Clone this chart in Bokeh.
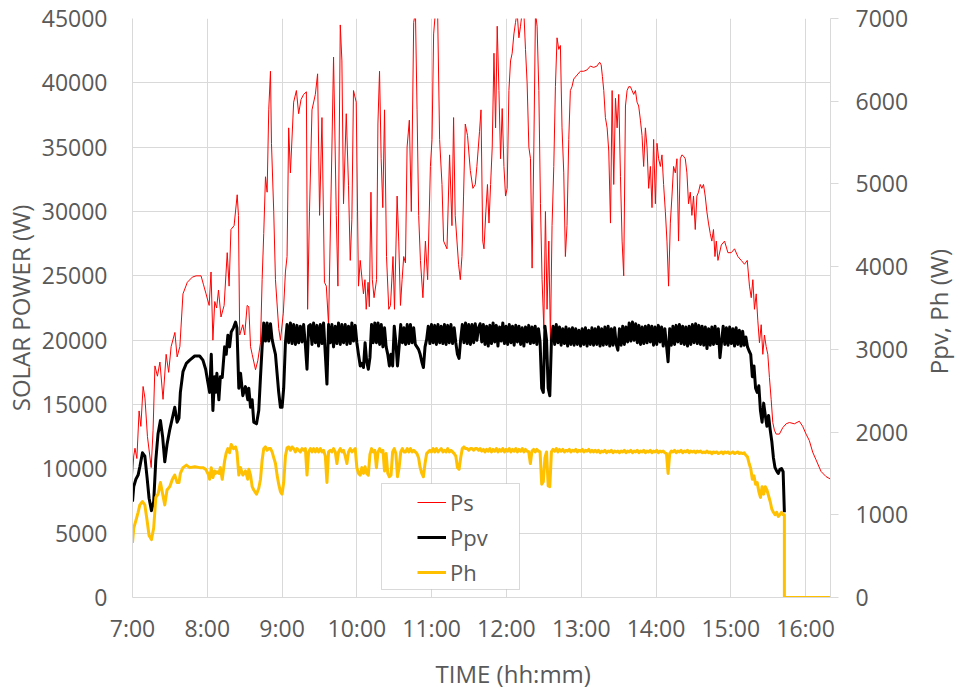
from bokeh.plotting import figure
from bokeh.models import (Range1d, LinearAxis, FixedTicker, Legend, LegendItem,
                          BoxAnnotation, Title, NumeralTickFormatter, Div)
from bokeh.layouts import row
from bokeh.embed import file_html
from bokeh.resources import INLINE

# ---------------- data (minutes after 7:00) ----------------
hour_ticks = [0, 60, 120, 180, 240, 300, 360, 420, 480, 540]
hour_labels = ["7:00", "8:00", "9:00", "10:00", "11:00", "12:00", "13:00", "14:00", "15:00", "16:00"]
left_ticks = [0, 5000, 10000, 15000, 20000, 25000, 30000, 35000, 40000, 45000]
right_ticks = [0, 1000, 2000, 3000, 4000, 5000, 6000, 7000]

# Ps (left axis, W)
ps_min = [
    0, 1, 2, 3.5, 5.3, 6.7, 8.5, 10, 12, 15,
    16.5, 18, 20, 22, 24.5, 27, 29, 31, 34, 35.8,
    38, 40.5, 44, 48, 51, 55, 57, 59, 61.5, 63,
    64.5, 66, 67.5, 69, 71, 73.5, 76, 77.5, 79, 81.5,
    84, 85, 86, 88.5, 90, 92, 93.3, 94.7, 96, 98.7,
    100.5, 102.7, 104, 105.3, 106.7, 108, 109.3, 110.7, 111.5, 113.3,
    114.7, 117.3, 118.7, 121, 122.7, 124, 125.3, 126.7, 129.3, 131.5,
    133.3, 135.2, 137.3, 139.5, 140.5, 142, 144, 146.7, 148.5, 150.1,
    152, 154, 155.5, 157.3, 160, 161.3, 163.5, 164.8, 166.7, 168,
    169.3, 171.5, 173.3, 174.7, 176, 177.3, 179.5, 181.3, 182.7, 185.3,
    186.5, 187.5, 189, 190, 191.3, 192.4, 193.8, 195.8, 196.9, 198.2,
    199.5, 200.8, 202.2, 203.8, 205.6, 207, 209, 210.2, 212.3, 213.6,
    215, 216.3, 217.6, 219, 220.3, 222.1, 223.7, 225.6, 227, 228.3,
    229.6, 231, 233, 235, 236.8, 239, 240.3, 241.6, 243, 244.8,
    246.4, 248.3, 249.6, 252.3, 254.4, 256.3, 257.6, 258.9, 261.6, 263,
    264.3, 265.6, 267, 268.8, 271, 273.1, 275, 276.3, 278.4, 279.6,
    281, 282, 283.5, 284.8, 286, 287.3, 288.6, 290, 291.3, 292.6,
    294, 295.3, 296.6, 298, 299.3, 300.6, 302, 303.3, 304.6, 306,
    307.3, 308.6, 310, 311.3, 312.6, 314, 315.3, 316.6, 318, 319.3,
    320.6, 322, 323.3, 324.6, 326, 327.3, 328.6, 330, 331.3, 332.6,
    334, 335.3, 336.6, 338, 339.3, 340.6, 342, 343.3, 344.6, 346,
    347.3, 348.6, 350, 351.3, 352.6, 354, 356.6, 359.3, 362, 364.6,
    367.3, 370, 372.6, 374.8, 376, 377, 378.1, 379.4, 380.8, 382.1,
    383.5, 384.8, 386.1, 387.5, 388.8, 390.1, 391.5, 392.8, 394.1, 395.5,
    396.8, 398.1, 399.5, 400.8, 402.1, 403.5, 404.8, 406.1, 407.5, 408.8,
    410.1, 411.5, 412.8, 414.1, 415.5, 416.8, 418.1, 419.5, 420.8, 422.1,
    423.5, 424.8, 426.1, 427.5, 428.8, 430.1, 431.5, 432.8, 434.1, 435.5,
    436.8, 438.1, 439.5, 440.8, 442.1, 443.5, 444.8, 446.1, 447.5, 448.8,
    450.1, 451.5, 452.8, 454.1, 455.5, 456.8, 458.1, 459.5, 460.8, 462.1,
    463.5, 464.8, 466.1, 467.3, 468.4, 469.7, 472.4, 475, 477.7, 480.4,
    483, 485.7, 488.4, 491, 493.2, 495, 496.4, 497.7, 499, 500.4,
    501.7, 503, 504.4, 505.7, 507, 508.4, 509.7, 511, 512.4, 513.7,
    515, 516.4, 519, 521.7, 524.4, 527, 531, 535, 537.7, 540.4,
    543, 545.7, 548.4, 552.4, 556.4, 560,
]
ps_w = [
    9500, 11000, 11600, 10800, 14500, 13300, 16400, 15500, 12500, 10100,
    13000, 18000, 17200, 18300, 15400, 18900, 17500, 19500, 20600, 18700,
    19500, 23600, 24500, 24900, 25000, 25000, 24300, 23600, 22700, 25300,
    20000, 23000, 22500, 23900, 21800, 22700, 26800, 24200, 28600, 28900,
    31300, 29700, 20400, 21200, 20400, 22700, 22600, 19500, 18900, 17700,
    18400, 19800, 24700, 28300, 32700, 31500, 37900, 40900, 35300, 30000,
    24700, 20900, 20000, 22100, 25300, 26500, 36500, 33000, 38500, 39400,
    37600, 38700, 39100, 39300, 22400, 30000, 37900, 39100, 40700, 29700,
    37300, 24500, 24200, 21200, 35000, 42000, 29700, 24200, 44500, 41700,
    30600, 37600, 32000, 26200, 29400, 39400, 38500, 24200, 26200, 23600,
    24700, 22400, 24500, 22600, 31500, 24700, 23300, 24700, 36800, 40900,
    34100, 30300, 37900, 26500, 22400, 22700, 26500, 22400, 31200, 27700,
    22700, 24700, 26500, 26000, 35000, 37100, 30000, 44700, 45500, 37900,
    29700, 26200, 23300, 27700, 24700, 33500, 35600, 43800, 45500, 45500,
    35600, 32100, 27700, 27100, 34400, 28900, 37300, 29700, 25900, 24700,
    26500, 31200, 36800, 35900, 33200, 31800, 32100, 33500, 36200, 37900,
    27700, 27100, 30000, 32100, 29100, 32100, 35000, 42300, 36500, 44400,
    39400, 34100, 38000, 33500, 31200, 31800, 39400, 41700, 42300, 43800,
    44700, 45500, 43500, 44400, 45500, 45500, 42600, 40000, 35000, 34100,
    25600, 35000, 45500, 44400, 39400, 30600, 24700, 20900, 30000, 22400,
    27700, 20000, 28900, 33500, 39700, 43500, 42600, 42900, 36500, 33000,
    26500, 28900, 35600, 39400, 39700, 40300, 40600, 40900, 40900, 41000,
    41300, 41200, 41300, 41600, 41400, 40500, 39400, 37300, 36500, 34700,
    29100, 39400, 32100, 38800, 36500, 39100, 32700, 27700, 25000, 38200,
    39400, 39700, 39700, 39400, 39100, 39400, 38500, 38200, 37100, 35900,
    33500, 36500, 35000, 31800, 33500, 30300, 35600, 30600, 35300, 34100,
    33500, 34400, 32100, 30000, 27700, 24200, 29100, 31200, 33500, 33000,
    34100, 27700, 34100, 34400, 34300, 34100, 33000, 30600, 31500, 29700,
    31200, 28600, 31200, 31500, 32100, 31800, 32100, 31200, 30000, 29100,
    28300, 27700, 28600, 26500, 27700, 26200, 27400, 27700, 26800, 26800,
    27100, 26500, 26200, 25900, 26200, 24200, 23300, 24700, 22400, 23600,
    21500, 19800, 21200, 18900, 20400, 19500, 18900, 17100, 15400, 13600,
    13000, 12700, 12700, 13200, 13500, 13600, 13500, 13700, 13300, 12700,
    12200, 11300, 10700, 9800, 9400, 9200,
]

# Ppv and Ph (right axis, W) share sample times
pv_min = [
    0, 1, 2.7, 4.5, 5.9, 8, 9.9, 11.7, 13.3, 15.2,
    17, 18.7, 20.5, 22.4, 24.2, 25.9, 27.7, 29.9, 32, 33.9,
    35.8, 37.3, 38.4, 40.5, 43.2, 45.9, 49.9, 53.9, 56.5, 58.7,
    60.5, 61.9, 63.2, 64.5, 65.9, 66.7, 67.7, 69.3, 70.5, 72,
    73.9, 75.2, 76.5, 77.9, 79.2, 81, 82.7, 83.8, 85.3, 86.7,
    88.5, 90.6, 92.5, 93.3, 94.7, 96, 97.3, 99.5, 101.3, 102.7,
    104, 105.3, 106.7, 108, 109.3, 110.7, 112, 113.3, 114.7, 116,
    117.3, 118.7, 120, 121.3, 122.7, 124, 125.3, 126.7, 128, 129.3,
    130.7, 132, 133.3, 134.7, 136, 137.3, 138.7, 140, 141.3, 142.7,
    144, 145.3, 146.7, 148, 149.3, 150.7, 152, 153.3, 154.7, 156,
    157.3, 158.7, 160, 161.3, 162.7, 164, 165.3, 166.7, 168, 169.3,
    170.7, 172, 173.3, 174.7, 176, 177.3, 178.7, 180, 181.3, 182.7,
    184, 185.3, 186.6, 187.9, 189.2, 190.5, 191.8, 193.1, 194.4, 195.7,
    197, 198.3, 199.6, 200.9, 202.2, 203.5, 204.8, 206.1, 207.4, 208.7,
    210, 211.3, 212.6, 213.9, 215.2, 216.5, 217.8, 219.1, 220.4, 221.7,
    223, 224.3, 225.6, 226.9, 228.2, 229.5, 230.8, 232.1, 233.4, 234.7,
    236, 237.3, 238.6, 239.9, 241.2, 242.5, 243.8, 245.1, 246.4, 247.7,
    249, 250.3, 251.6, 252.9, 254.2, 255.5, 256.8, 258.1, 259.4, 260.7,
    262, 263.3, 264.6, 265.9, 267.2, 268.5, 269.8, 271.1, 272.4, 273.7,
    275, 276.3, 277.6, 278.9, 280.2, 281.5, 282.8, 284.1, 285.4, 286.7,
    288, 289.3, 290.6, 291.9, 293.2, 294.5, 295.8, 297.1, 298.4, 299.7,
    301, 302.3, 303.6, 304.9, 306.2, 307.5, 308.8, 310.1, 311.4, 312.7,
    314, 315.3, 316.6, 317.9, 319.2, 320.5, 321.8, 323.1, 324.4, 325.7,
    327, 328.3, 329.6, 330.9, 332.2, 333.5, 334.8, 336.1, 337.4, 338.7,
    340, 341.3, 342.6, 343.9, 345.2, 346.5, 347.8, 349.1, 350.4, 351.7,
    353, 354.3, 355.6, 356.9, 358.2, 359.5, 360.8, 362.1, 363.4, 364.7,
    366, 367.3, 368.6, 369.9, 371.2, 372.5, 373.8, 375.1, 376.4, 377.7,
    379, 380.3, 381.6, 382.9, 384.2, 385.5, 386.8, 388.1, 389.4, 390.7,
    392, 393.3, 394.6, 395.9, 397.2, 398.5, 399.8, 401.1, 402.4, 403.7,
    405, 406.3, 407.6, 408.9, 410.2, 411.5, 412.8, 414.1, 415.4, 416.7,
    418, 419.3, 420.6, 421.9, 423.2, 424.5, 425.8, 427.1, 428.4, 429.7,
    431, 432.3, 433.6, 434.9, 436.2, 437.5, 438.8, 440.1, 441.4, 442.7,
    444, 445.3, 446.6, 447.9, 449.2, 450.5, 451.8, 453.1, 454.4, 455.7,
    457, 458.3, 459.6, 460.9, 462.2, 463.5, 464.8, 466.1, 467.4, 468.7,
    470, 471.3, 472.6, 473.9, 475.2, 476.5, 477.8, 479.1, 480.4, 481.7,
    483, 484.3, 485.6, 486.9, 488.2, 489.5, 490.8, 492.1, 493.4, 494.7,
    496, 497.3, 498.6, 499.9, 501.2, 502.5, 503.8, 505.1, 506.4, 507.7,
    509, 510.3, 511.6, 512.9, 514.2, 515.5, 516.8, 518.1, 519.4, 520.7,
    522, 523,
]
ppv_w = [
    1160, 1340, 1430, 1480, 1580, 1750, 1710, 1450, 1200, 1050,
    1160, 1660, 1980, 2140, 1940, 1640, 1850, 2030, 2170, 2300,
    2120, 2170, 2480, 2730, 2830, 2870, 2920, 2920, 2870, 2760,
    2600, 2480, 2940, 2260, 2670, 2480, 2710, 2390, 2670, 2660,
    3030, 2940, 3170, 3030, 3210, 3260, 3330, 3260, 2530, 2710,
    2440, 2550, 2390, 2530, 2300, 2390, 2120, 2100, 2260, 2670,
    3030, 3320, 3100, 3320, 3100, 3310, 3120, 3030, 2940, 2710,
    2480, 2300, 2300, 2530, 3080, 3300, 3080, 3320, 3070, 3300,
    3060, 3290, 3080, 3280, 3090, 3300, 3050, 2760, 3280, 3300,
    3060, 3320, 3080, 3290, 3040, 3300, 3070, 3320, 2940, 2580,
    3300, 3080, 3300, 3030, 3280, 3070, 3320, 3060, 3300, 3080,
    3300, 3060, 3280, 3070, 3320, 3100, 3290, 3080, 2940, 2800,
    2830, 2780, 3080, 2850, 2760, 2900, 3300, 3080, 3320, 3080,
    3320, 3060, 3300, 3030, 3260, 3030, 2940, 2800, 2940, 2800,
    3280, 3080, 2800, 3030, 3300, 3080, 3260, 3060, 3300, 3070,
    3300, 3080, 3260, 3060, 3030, 3000, 2940, 2850, 2780, 3030,
    3120, 3280, 3070, 3300, 3080, 3290, 3060, 3300, 3080, 3280,
    3070, 3300, 3060, 3290, 3080, 3300, 3070, 3260, 3080, 2940,
    2890, 3120, 3300, 3080, 3320, 3070, 3300, 3060, 3300, 3080,
    3310, 3110, 3260, 3310, 3090, 3300, 3060, 3280, 3040, 3290,
    3070, 3320, 3090, 3290, 3040, 3270, 3100, 3320, 3070, 3280,
    3060, 3300, 3080, 3280, 3050, 3290, 3090, 3280, 3060, 3260,
    3040, 3270, 3090, 3290, 3070, 3270, 3080, 3280, 3060, 3250,
    3090, 2530, 2480, 3280, 3110, 2530, 2440, 3100, 3280, 3060,
    3300, 3080, 3270, 3050, 3250, 3070, 3270, 3040, 3250, 3060,
    3260, 3050, 3250, 3060, 3230, 3040, 3250, 3060, 3260, 3040,
    3230, 3060, 3260, 3050, 3250, 3060, 3270, 3040, 3250, 3050,
    3270, 3060, 3280, 3040, 3250, 3050, 3260, 3060, 2990, 3250,
    3050, 3280, 3060, 3270, 3090, 3320, 3100, 3330, 3110, 3310,
    3080, 3290, 3060, 3270, 3070, 3280, 3080, 3290, 3090, 3280,
    3050, 3270, 3060, 3290, 3090, 3270, 3040, 3250, 3050, 2850,
    3250, 3050, 3280, 3060, 3290, 3090, 3300, 3070, 3280, 3060,
    3270, 3040, 3280, 3060, 3300, 3080, 3310, 3070, 3290, 3060,
    3280, 3050, 3270, 3010, 3250, 3050, 3270, 3060, 3280, 3070,
    3250, 2900, 3090, 3280, 3060, 3260, 3050, 3270, 3070, 3250,
    3040, 3260, 3060, 3230, 3040, 3220, 3050, 3150, 3030, 2980,
    2940, 2670, 2800, 2530, 2480, 2560, 2260, 2120, 2350, 2200,
    2070, 2200, 2030, 1890, 1690, 1570, 1530, 1500, 1550, 1560,
    1520, 1030,
]
ph_w = [
    660, 840, 930, 1030, 1120, 1160, 1120, 930, 750, 700,
    840, 1210, 1250, 1390, 1250, 1120, 1300, 1340, 1430, 1480,
    1390, 1390, 1500, 1570, 1600, 1570, 1580, 1570, 1570, 1550,
    1500, 1430, 1570, 1450, 1530, 1500, 1520, 1500, 1570, 1430,
    1650, 1750, 1800, 1750, 1850, 1800, 1820, 1760, 1480, 1570,
    1480, 1530, 1430, 1550, 1480, 1340, 1300, 1250, 1320, 1430,
    1660, 1800, 1820, 1780, 1800, 1800, 1760, 1690, 1620, 1480,
    1370, 1280, 1250, 1390, 1710, 1810, 1820, 1780, 1820, 1800,
    1760, 1800, 1780, 1760, 1800, 1780, 1800, 1480, 1760, 1800,
    1760, 1800, 1760, 1800, 1760, 1800, 1760, 1780, 1710, 1390,
    1760, 1780, 1760, 1800, 1760, 1620, 1760, 1800, 1760, 1780,
    1710, 1620, 1760, 1800, 1760, 1780, 1800, 1570, 1500, 1480,
    1570, 1500, 1580, 1500, 1480, 1730, 1800, 1760, 1780, 1570,
    1760, 1800, 1760, 1780, 1530, 1740, 1500, 1460, 1480, 1760,
    1800, 1740, 1460, 1570, 1760, 1800, 1760, 1760, 1800, 1760,
    1800, 1760, 1780, 1760, 1740, 1690, 1570, 1500, 1460, 1620,
    1740, 1760, 1780, 1760, 1800, 1760, 1800, 1760, 1780, 1800,
    1760, 1780, 1760, 1800, 1760, 1780, 1760, 1740, 1710, 1570,
    1550, 1690, 1800, 1820, 1800, 1800, 1780, 1800, 1800, 1780,
    1800, 1800, 1780, 1800, 1770, 1790, 1760, 1790, 1770, 1800,
    1760, 1790, 1770, 1800, 1760, 1790, 1770, 1800, 1760, 1790,
    1770, 1800, 1760, 1790, 1770, 1800, 1760, 1790, 1770, 1800,
    1760, 1790, 1770, 1760, 1620, 1770, 1790, 1760, 1790, 1770,
    1760, 1370, 1400, 1690, 1760, 1350, 1340, 1760, 1790, 1770,
    1800, 1760, 1790, 1770, 1790, 1760, 1780, 1770, 1790, 1760,
    1780, 1770, 1790, 1760, 1780, 1770, 1790, 1760, 1780, 1770,
    1790, 1760, 1780, 1760, 1780, 1760, 1780, 1750, 1770, 1760,
    1780, 1750, 1770, 1760, 1780, 1750, 1770, 1760, 1770, 1750,
    1770, 1760, 1780, 1750, 1770, 1760, 1780, 1750, 1770, 1760,
    1780, 1750, 1770, 1760, 1780, 1750, 1770, 1760, 1780, 1750,
    1770, 1760, 1780, 1750, 1770, 1760, 1770, 1750, 1740, 1500,
    1740, 1770, 1760, 1780, 1750, 1770, 1760, 1780, 1750, 1770,
    1760, 1780, 1750, 1770, 1760, 1770, 1750, 1770, 1760, 1770,
    1750, 1760, 1750, 1770, 1750, 1760, 1740, 1760, 1750, 1760,
    1740, 1750, 1760, 1740, 1760, 1750, 1760, 1740, 1750, 1760,
    1740, 1750, 1760, 1740, 1750, 1740, 1750, 1720, 1700, 1620,
    1560, 1430, 1470, 1370, 1390, 1280, 1210, 1340, 1250, 1340,
    1300, 1230, 1160, 1070, 1030, 1000, 1030, 980, 1000, 1030,
    1000, 1000,
]
ph_tail_min = [523, 560]
ph_tail_w = [0, 0]

# ---------------- styling ----------------
FONT = "Open Sans"
TXT = "#595959"
GRID = "#d9d9d9"
FS_TICK = "23px"
FS_TITLE = "24px"

p = figure(width=926, height=697, output_backend="svg", toolbar_location=None,
           x_range=Range1d(0, 560), y_range=Range1d(0, 45000),
           min_border_left=130, min_border_right=96, min_border_top=18,
           min_border_bottom=100, background_fill_color="white",
           border_fill_color="white", outline_line_color=None, margin=0)
p.extra_y_ranges = {"right": Range1d(0, 7000)}

# grids
p.xgrid.ticker = FixedTicker(ticks=hour_ticks)
p.ygrid.ticker = FixedTicker(ticks=left_ticks)
for g in (p.xgrid, p.ygrid):
    g.grid_line_color = GRID
    g.grid_line_width = 1

# x axis
xa = p.xaxis[0]
xa.ticker = FixedTicker(ticks=hour_ticks)
xa.major_label_overrides = {t: lab for t, lab in zip(hour_ticks, hour_labels)}
xa.major_tick_line_color = None
xa.minor_tick_line_color = None
xa.major_tick_out = 0
xa.major_tick_in = 0
xa.major_label_standoff = 14
xa.axis_line_color = GRID

# left axis
ya = p.yaxis[0]
ya.ticker = FixedTicker(ticks=left_ticks)
ya.formatter = NumeralTickFormatter(format="0")
ya.major_tick_line_color = None
ya.minor_tick_line_color = None
ya.major_tick_out = 0
ya.major_tick_in = 0
ya.major_label_standoff = 25
ya.axis_line_color = GRID
ya.axis_label = "SOLAR POWER (W)"
ya.axis_label_standoff = 2

# right axis (ticks + labels)
ra = LinearAxis(y_range_name="right", ticker=FixedTicker(ticks=right_ticks),
                formatter=NumeralTickFormatter(format="0"))
ra.major_tick_out = 8
ra.major_tick_in = 0
ra.major_tick_line_color = GRID
ra.minor_tick_line_color = None
ra.major_label_standoff = 17
ra.axis_line_color = GRID
p.add_layout(ra, "right")

for ax in (xa, ya, ra):
    ax.major_label_text_font = FONT
    ax.major_label_text_font_size = FS_TICK
    ax.major_label_text_color = TXT
    ax.axis_label_text_font = FONT
    ax.axis_label_text_font_size = FS_TITLE
    ax.axis_label_text_color = TXT
    ax.axis_label_text_font_style = "normal"

p.add_layout(Title(text="TIME (hh:mm)", align="left", offset=303,
                   text_font=FONT, text_font_size=FS_TITLE, text_color=TXT,
                   text_font_style="normal", standoff=16), "below")

# series
r_ps = p.line(ps_min, ps_w, line_color="#ff0000", line_width=1, line_join="round")
r_pv = p.line(pv_min, ppv_w, line_color="black", line_width=3, line_join="round",
              y_range_name="right")
r_ph = p.line(pv_min + ph_tail_min, ph_w + ph_tail_w, line_color="#ffc000",
              line_width=3, line_join="round", y_range_name="right")

# legend frame + legend
box = BoxAnnotation(left=249, right=387, bottom=8, top=114,
                    left_units="screen", right_units="screen",
                    bottom_units="screen", top_units="screen",
                    fill_color="white", fill_alpha=1.0,
                    line_color="#808080", line_width=1)
p.add_layout(box)

legend = Legend(items=[LegendItem(label="Ps", renderers=[r_ps]),
                       LegendItem(label="Ppv", renderers=[r_pv]),
                       LegendItem(label="Ph", renderers=[r_ph])],
                location=(280, 5), padding=5, spacing=5, margin=0,
                glyph_width=29, glyph_height=26, label_height=26,
                label_standoff=4, label_text_font=FONT,
                label_text_font_size="22px", label_text_color=TXT,
                border_line_alpha=0, background_fill_alpha=0)
p.add_layout(legend)

# right axis title (reads bottom-to-top), in a narrow strip beside the plot;
# vertical writing mode keeps its layout box inside the strip
right_title = Div(
    text=('<div style="position:relative;width:30px;height:697px;">'
          '<span style="position:absolute;left:1px;top:249px;'
          'writing-mode:vertical-rl;transform:rotate(180deg);white-space:nowrap;'
          'font-family:\'Open Sans\';font-size:24px;line-height:24px;'
          'color:#595959;">Ppv, Ph (W)</span></div>'),
    width=30, height=697, margin=0)

layout = row(p, right_title, spacing=0)
open("out.html", "w").write(file_html(layout, INLINE))
